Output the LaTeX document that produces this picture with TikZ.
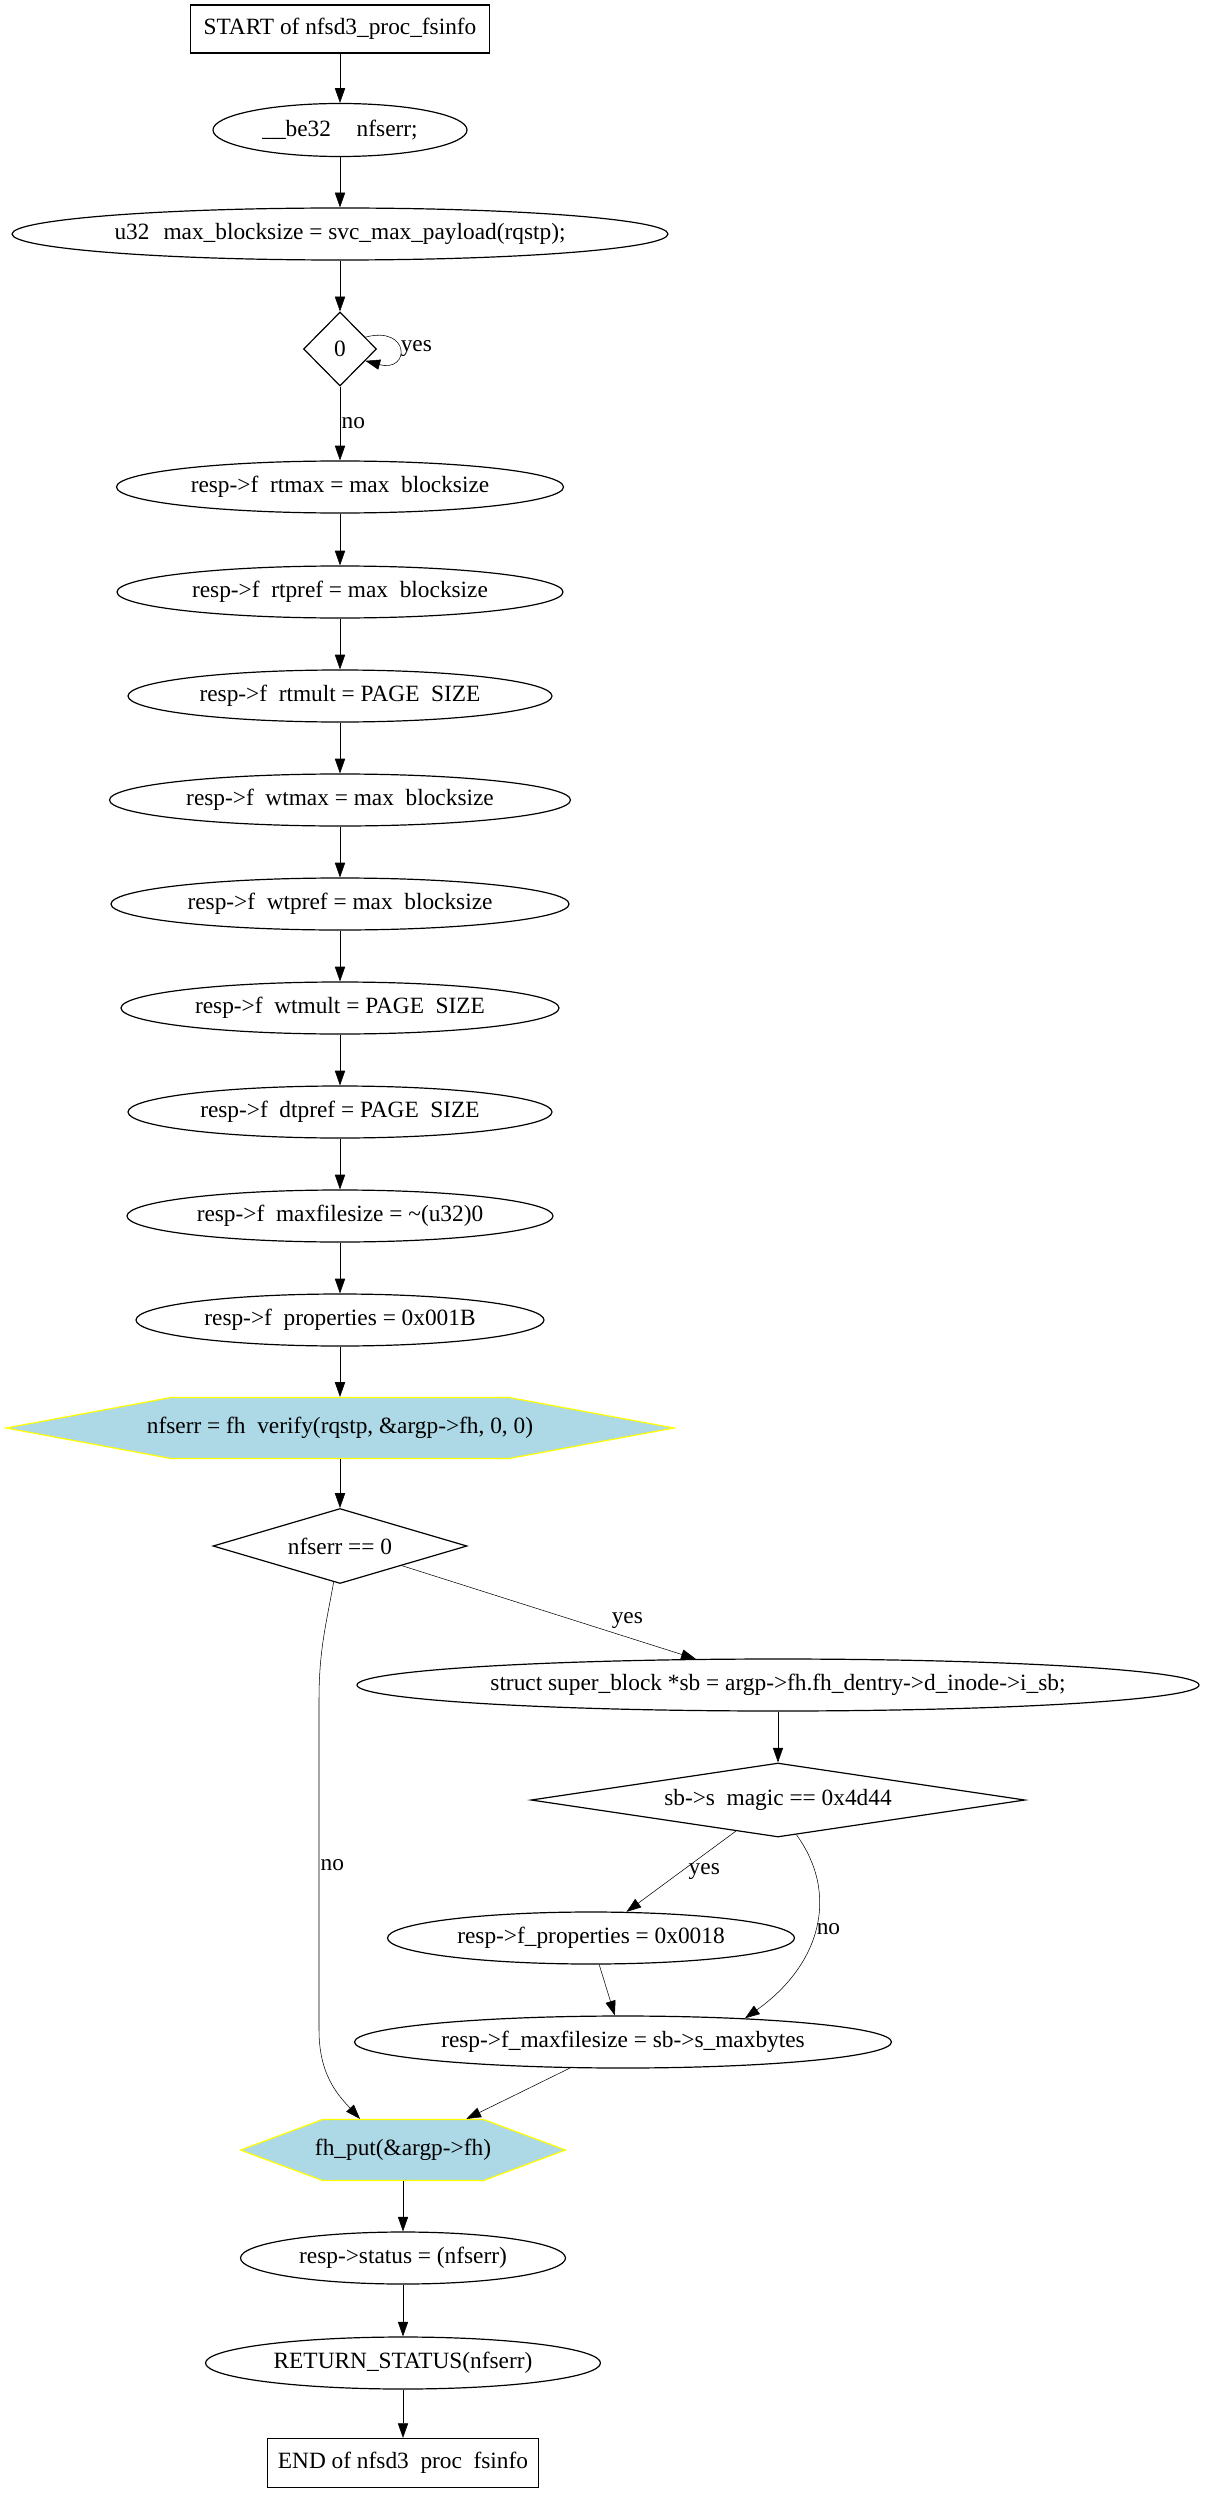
\documentclass[tikz,border=0pt]{standalone}
\usepackage{fontspec}
\setmainfont{Liberation Serif}
\usetikzlibrary{shapes.geometric,arrows.meta,calc}
\pgfdeclarelayer{bg}
\pgfsetlayers{bg,main}
\definecolor{hexblue}{HTML}{ADD8E6}
\definecolor{hexline}{HTML}{FFFF00}
\newcommand\gp{\hspace{0.5em}}
\begin{document}
\begin{tikzpicture}[x=0.75pt,y=-0.75pt,line width=0.9pt,
  every node/.style={font=\fontsize{17.5pt}{21pt}\selectfont},
  ell/.style 2 args={draw,ellipse,minimum width=#1*0.75pt,minimum height=#2*0.75pt,inner sep=0pt},
  boxn/.style 2 args={draw,rectangle,minimum width=#1*0.75pt,minimum height=#2*0.75pt,inner sep=0pt},
  dia/.style n args={3}{draw,diamond,minimum width=#1*0.75pt,minimum height=#2*0.75pt,inner sep=0pt,aspect=#3},
  hexn/.style 2 args={rectangle,minimum width=#1*0.75pt,minimum height=#2*0.75pt,inner sep=0pt},
  hexshape/.style={fill=hexblue,draw=hexline,line width=0.9pt},
  arr/.style={-{Triangle[length=11pt,width=7.7pt]}},
  lbl/.style={inner sep=1pt}]
\useasboundingbox (0,0) rectangle (1207,2493);

% nodes
\node[boxn={299}{48}] (start) at (340,29) {START of nfsd3\_proc\_fsinfo};
\node[ell={254}{53}] (be32) at (340,130) {\_\_be32\hspace{1.1em}nfserr;};
\node[ell={656}{52}] (u32) at (340,234) {u32\hspace{0.6em}max\_blocksize = svc\_max\_payload(rqstp);};
\node[dia={73}{74}{1}] (d0) at (340,349) {0};
\node[ell={447}{52}] (rtmax) at (340,487) {resp->f\gp rtmax = max\gp blocksize};
\node[ell={446}{52}] (rtpref) at (340,592) {resp->f\gp rtpref = max\gp blocksize};
\node[ell={424}{52}] (rtmult) at (340,696) {resp->f\gp rtmult = PAGE\gp SIZE};
\node[ell={461}{52}] (wtmax) at (340,800) {resp->f\gp wtmax = max\gp blocksize};
\node[ell={458}{52}] (wtpref) at (340,904) {resp->f\gp wtpref = max\gp blocksize};
\node[ell={438}{52}] (wtmult) at (340,1008) {resp->f\gp wtmult = PAGE\gp SIZE};
\node[ell={424}{52}] (dtpref) at (340,1112) {resp->f\gp dtpref = PAGE\gp SIZE};
\node[ell={426}{52}] (maxfs) at (340,1216) {resp->f\gp maxfilesize = \textasciitilde(u32)0};
\node[ell={408}{52}] (props) at (340,1320) {resp->f\gp properties = 0x001B};
\node[hexn={338}{61}] (h1) at (340,1428) {nfserr = fh\gp verify(rqstp, \&argp->fh, 0, 0)};
\node[dia={254}{75}{3.4}] (d1) at (340,1546) {nfserr == 0};
\node[ell={842}{52}] (sblk) at (778,1685) {struct super\_block *sb = argp->fh.fh\_dentry->d\_inode->i\_sb;};
\node[dia={494}{74}{6.7}] (magic) at (778,1800) {sb->s\gp magic == 0x4d44};
\node[ell={407}{52}] (props18) at (591,1938) {resp->f\_properties = 0x0018};
\node[ell={537}{52}] (maxfs2) at (623,2042) {resp->f\_maxfilesize = sb->s\_maxbytes};
\node[hexn={161}{61}] (h2) at (403,2150) {fh\_put(\&argp->fh)};
\node[ell={325}{52}] (status) at (403,2258) {resp->status = (nfserr)};
\node[ell={395}{52}] (ret) at (403,2363) {RETURN\_STATUS(nfserr)};
\node[boxn={271}{49}] (endn) at (403,2463) {END of nfsd3\gp proc\gp fsinfo};

% hexagon outlines
\begin{pgfonlayer}{bg}
\path[hexshape] ($(h1)+(-334,0)$) -- ($(h1)+(-169,-30.5)$) -- ($(h1)+(169,-30.5)$)
  -- ($(h1)+(334,0)$) -- ($(h1)+(169,30.5)$) -- ($(h1)+(-169,30.5)$) -- cycle;
\path[hexshape] ($(h2)+(-162.5,0)$) -- ($(h2)+(-80.5,-30.5)$) -- ($(h2)+(80.5,-30.5)$)
  -- ($(h2)+(162.5,0)$) -- ($(h2)+(80.5,30.5)$) -- ($(h2)+(-80.5,30.5)$) -- cycle;
\end{pgfonlayer}

% edges
\draw[arr] (start) -- (be32);
\draw[arr] (be32) -- (u32);
\draw[arr] (u32) -- (d0);
\draw[arr] (d0.25) .. controls ($(d0.25)+(45,-12)$) and ($(d0.-25)+(45,12)$) .. node[pos=0.5,anchor=west,lbl] {yes} (d0.-25);
\draw[arr] (d0) -- node[pos=0.5,anchor=west,lbl] {no} (rtmax);
\draw[arr] (rtmax) -- (rtpref);
\draw[arr] (rtpref) -- (rtmult);
\draw[arr] (rtmult) -- (wtmax);
\draw[arr] (wtmax) -- (wtpref);
\draw[arr] (wtpref) -- (wtmult);
\draw[arr] (wtmult) -- (dtpref);
\draw[arr] (dtpref) -- (maxfs);
\draw[arr] (maxfs) -- (props);
\draw[arr] (props) -- (h1);
\draw[arr] (h1) -- (d1);
\draw[arr] (d1) -- node[pos=0.767,yshift=12.5pt] {yes} (sblk);
\draw[arr] (d1.-100) .. controls (326,1625) and (319,1650) .. (319,1700)
  -- node[pos=0.5,anchor=west,lbl] {no} (319,2030)
  .. controls (319,2075) and (338,2095) .. ($(h2.north)+(-43,0)$);
\draw[arr] (sblk) -- (magic);
\draw[arr] (magic) -- node[pos=0.5,anchor=west,lbl,xshift=4.5pt] {yes} (props18);
\draw[arr] (magic.-62) .. controls (840,1895) and (820,1965) .. node[pos=0.5,anchor=west,lbl] {no} (maxfs2.11.6);
\draw[arr] (props18) -- (maxfs2);
\draw[arr] (maxfs2) -- (h2);
\draw[arr] (h2) -- (status);
\draw[arr] (status) -- (ret);
\draw[arr] (ret) -- (endn);
\end{tikzpicture}
\end{document}
